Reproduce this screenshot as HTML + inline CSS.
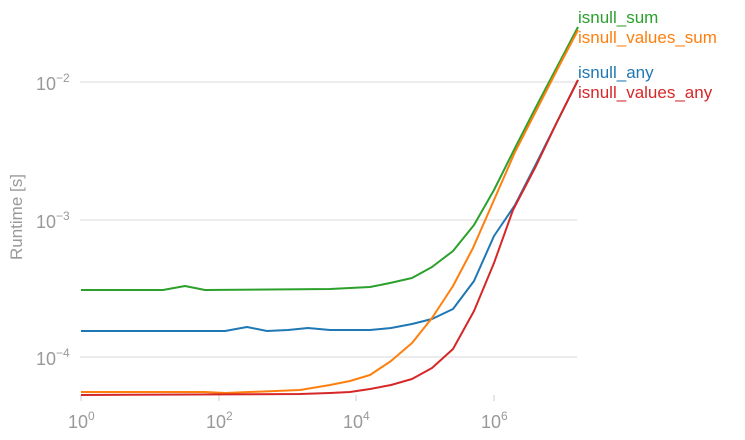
<!DOCTYPE html>
<html><head><style>body{margin:0;background:#fff}svg{display:block}text{font-family:"Liberation Sans",sans-serif}</style></head><body>
<svg width="745" height="440" xmlns="http://www.w3.org/2000/svg">
<g stroke="#e5e5e5" stroke-width="1.5">
<line x1="80" y1="82" x2="577" y2="82"/><line x1="80" y1="220" x2="577" y2="220"/><line x1="80" y1="357" x2="577" y2="357"/>
</g>
<g stroke="#ccc" stroke-width="1"><line x1="81" y1="395" x2="81" y2="401"/><line x1="219" y1="395" x2="219" y2="401"/><line x1="356" y1="395" x2="356" y2="401"/><line x1="494" y1="395" x2="494" y2="401"/></g>
<g fill="#999" font-size="18">
<text x="36" y="90">10<tspan font-size="12" dy="-8">−2</tspan></text>
<text x="36" y="228">10<tspan font-size="12" dy="-8">−3</tspan></text>
<text x="36" y="365">10<tspan font-size="12" dy="-8">−4</tspan></text>
<text x="68" y="428">10<tspan font-size="12" dy="-8">0</tspan></text>
<text x="206" y="428">10<tspan font-size="12" dy="-8">2</tspan></text>
<text x="343" y="428">10<tspan font-size="12" dy="-8">4</tspan></text>
<text x="481" y="428">10<tspan font-size="12" dy="-8">6</tspan></text>
<text transform="translate(22,260) rotate(-90)" font-size="17">Runtime [s]</text>
</g>
<g fill="none" stroke-width="2" stroke-linejoin="round">
<polyline stroke="#2ca02c" points="81,290 163,290 185,286 205,290 330,289 350,288 370,287 390,283 412,278 432,267 453,251 474,225 494,190 515,148 536,107 557,67 578,27"/>
<polyline stroke="#1f77b4" points="81,331 225,331 247,327 267,331 288,330 308,328 330,330 370,330 391,328 412,324 432,319 453,309 474,281 494,236 515,205 536,164 557,122 578,80"/>
<polyline stroke="#ff7f0e" points="81,392 205,392 225,393 300,390 330,385 350,381 370,375 391,361 412,343 432,318 453,286 473,248 494,200 515,152 536,111 557,70 578,30"/>
<polyline stroke="#d62728" points="81,395 300,394 330,393 350,392 370,389 391,385 412,379 432,368 453,349 474,311 494,263 513,210 536,166 557,122 578,80"/>
</g>
<g font-size="17">
<text x="578" y="23" fill="#2ca02c">isnull_sum</text>
<text x="578" y="43" fill="#ff7f0e">isnull_values_sum</text>
<text x="578" y="78" fill="#1f77b4">isnull_any</text>
<text x="578" y="98" fill="#d62728">isnull_values_any</text>
</g>
</svg>
</body></html>
